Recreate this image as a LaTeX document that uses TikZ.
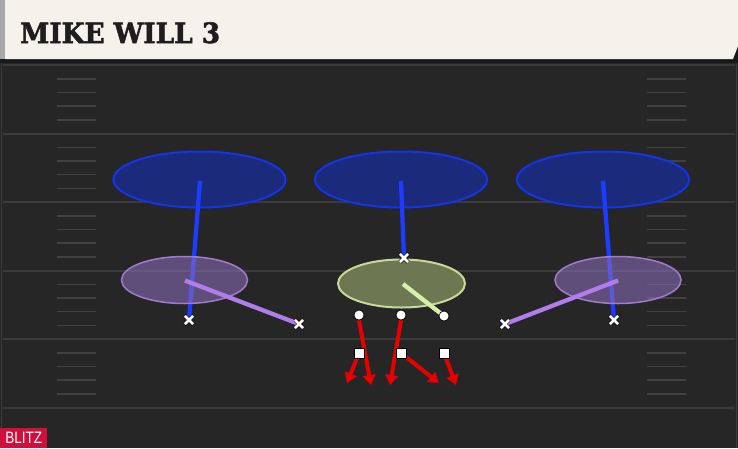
\documentclass[tikz,border=0pt]{standalone}
\usepackage{fontspec}
\usetikzlibrary{shapes.geometric,shapes.misc,arrows.meta}
\newfontfamily\titlefont{DejaVu Serif}[BoldFeatures={FakeBold=2}]
\newfontfamily\labelfont{Liberation Sans}
\definecolor{fieldbg}{HTML}{262626}
\definecolor{yardline}{HTML}{3A3A3A}
\definecolor{hashc}{HTML}{414141}
\definecolor{cream}{HTML}{F5F2EB}
\definecolor{strip}{HTML}{A8A8A8}
\definecolor{bzfill}{HTML}{1C2A7C}
\definecolor{bzdraw}{HTML}{1434E6}
\definecolor{bline}{HTML}{1E3CFF}
\definecolor{pzfill}{HTML}{9070C0}
\definecolor{pzdraw}{HTML}{A27CCB}
\definecolor{pline}{HTML}{B07DEA}
\definecolor{gzfill}{HTML}{6D7751}
\definecolor{gzdraw}{HTML}{C8D898}
\definecolor{gline}{HTML}{D8F0A8}
\definecolor{rline}{HTML}{E80000}
\definecolor{blitzred}{HTML}{D0103C}
\definecolor{titlec}{HTML}{1E1E1E}
\tikzset{
  bluezone/.style={ellipse, draw=bzdraw, line width=2pt, fill=bzfill, minimum width=172pt, minimum height=56pt, inner sep=0},
  purplezone/.style={ellipse, draw=pzdraw, line width=1.5pt, fill=pzfill, fill opacity=0.55, minimum width=126pt, minimum height=47pt, inner sep=0},
  greenzone/.style={ellipse, draw=gzdraw, line width=2pt, fill=gzfill, minimum width=127pt, minimum height=48pt, inner sep=0},
  xmark/.style={cross out, draw=white, line width=2.6pt, minimum size=5.5pt, inner sep=0, preaction={draw=black, line width=3.8pt}},
  dotmark/.style={circle, fill=white, draw=black, line width=0.6pt, minimum size=10pt, inner sep=0},
  sqmark/.style={rectangle, fill=white, draw=black, line width=0.5pt, minimum size=9.5pt, inner sep=0},
  blueroute/.style={draw=bline, line width=4.3pt},
  purpleroute/.style={draw=pline, line width=4.3pt},
  greenroute/.style={draw=gline, line width=4.3pt},
  redroute/.style={draw=rline, line width=4pt, -{Triangle[length=10pt,width=12.5pt]}},
  yl/.style={draw=yardline, line width=2pt},
  hm/.style={draw=hashc, line width=1.5pt},
}
\begin{document}
\begin{tikzpicture}[x=1pt,y=-1pt]
\useasboundingbox (0,0) rectangle (738,448);
% field
\fill[fieldbg] (0,59) rectangle (738,448);
\draw[yardline, line width=1.5pt] (1.5,62) -- (1.5,448);
\draw[yardline, line width=1.5pt] (736.5,62) -- (736.5,448);
\foreach \y in {65,133.5,202,270.5,339,407.5} {
  \draw[yl] (3,\y) -- (735,\y);
}
\foreach \y in {65,133.5,202,270.5,339} {
  \foreach \o in {14,27.5,41,55} {
    \draw[hm] (57,\y+\o) -- (96,\y+\o);
    \draw[hm] (647,\y+\o) -- (686,\y+\o);
  }
}
% header
\fill[black!90] (0,40) rectangle (738,63);
\fill[strip] (0,0) rectangle (5,59);
\fill[cream] (5,0) -- (738,0) -- (738,46) -- (733,59) -- (5,59) -- cycle;
\node[anchor=base west, inner sep=0, text=titlec, font=\titlefont\bfseries\fontsize{28}{30}\selectfont] (title) at (20,43) {\scalebox{0.94}[1]{MIKE WILL 3}};
% blitz label
\node[anchor=south west, fill=blitzred, minimum width=47pt, minimum height=20pt, inner sep=0, text=white, font=\labelfont\fontsize{16.5}{16.5}\selectfont] (blitz) at (0,448) {\scalebox{0.82}[1]{BLITZ}};
% zones
\node[bluezone] (bz1) at (199.5,179.5) {};
\node[bluezone] (bz2) at (401,179.5) {};
\node[bluezone] (bz3) at (603,179.5) {};
\node[greenzone] (gz) at (401.5,283.5) {};
% defenders
\coordinate (b1top) at (200,181);
\coordinate (b2top) at (401,181);
\coordinate (b3top) at (603,181);
\node[xmark] (d1) at (189,320) {};
\node[xmark] (d3) at (404,258) {};
\node[xmark] (d5) at (614,320) {};
\draw[blueroute] (d1.center) -- (b1top);
\draw[blueroute] (d3.center) -- (b2top);
\draw[blueroute] (d5.center) -- (b3top);
\node[purplezone] (pz1) at (184.5,280) {};
\node[purplezone] (pz3) at (618,280) {};
\coordinate (p1end) at (185,280.5);
\coordinate (p3end) at (618,280.5);
\coordinate (gend) at (403,284);
\node[xmark] (d2) at (299,324) {};
\node[xmark] (d6) at (505,324) {};
\draw[purpleroute] (d2.center) -- (p1end);
\draw[purpleroute] (d6.center) -- (p3end);
\node[dotmark] (d4) at (444,316) {};
\draw[greenroute] (d4.center) -- (gend);
\node[xmark] at (d1) {};
\node[xmark] at (d2) {};
\node[xmark] at (d3) {};
\node[xmark] at (d5) {};
\node[xmark] at (d6) {};
\node[dotmark] at (d4) {};
% rushers
\coordinate (r1end) at (371,385);
\coordinate (s1end) at (347,383);
\coordinate (r2end) at (390,385);
\coordinate (s2end) at (439,383);
\coordinate (s3end) at (456,385);
\node[dotmark] (r1) at (359,315) {};
\node[dotmark] (r2) at (401,315) {};
\node[sqmark] (s1) at (359,353) {};
\node[sqmark] (s2) at (401,353) {};
\node[sqmark] (s3) at (444,353) {};
\draw[redroute] (r1.south) -- (r1end);
\draw[redroute] (r2.south) -- (r2end);
\draw[redroute] (s1.center) -- (s1end);
\draw[redroute] (s2.center) -- (s2end);
\draw[redroute] (s3.center) -- (s3end);
\node[dotmark] at (r1) {};
\node[dotmark] at (r2) {};
\node[sqmark] at (s1) {};
\node[sqmark] at (s2) {};
\node[sqmark] at (s3) {};
\end{tikzpicture}
\end{document}
